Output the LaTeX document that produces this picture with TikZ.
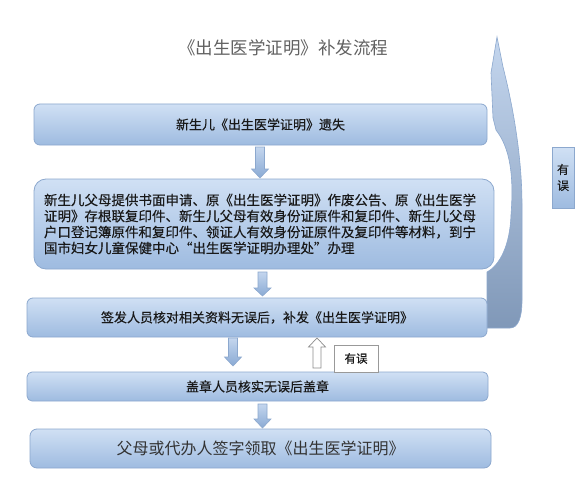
\documentclass[tikz,border=0pt]{standalone}
\usepackage{fontspec}
\setmainfont{Noto Sans CJK SC}
\newfontfamily\heifont{Noto Sans CJK SC}[FakeBold=0.35]
\definecolor{boxtop}{RGB}{208,224,244}
\definecolor{boxbot}{RGB}{158,187,224}
\definecolor{boxline}{RGB}{140,168,206}
\definecolor{arrtop}{RGB}{196,214,238}
\definecolor{arrbot}{RGB}{138,170,212}
\definecolor{curvtop}{RGB}{196,214,238}
\definecolor{curvbot}{RGB}{128,152,184}
\definecolor{txt}{RGB}{25,25,25}
\tikzset{
  flowbox/.style={draw=boxline, line width=0.8pt, top color=boxtop, bottom color=boxbot,
    rounded corners=6pt, inner sep=0pt, text=txt, font=\heifont\fontsize{13}{15.5}\selectfont},
  blockarr/.style={draw=boxline, line width=0.6pt, top color=arrtop, bottom color=arrbot},
  hollowarr/.style={draw=black!45, line width=0.7pt, fill=white},
  labelbox/.style={draw=black!40, line width=0.7pt, fill=white, inner sep=0pt,
    minimum width=44pt, minimum height=27pt, font=\heifont\fontsize{11.5}{13}\selectfont, text=txt},
  sidebox/.style={draw=boxline, line width=0.8pt, top color=boxtop, bottom color=boxbot,
    inner sep=0pt, minimum width=22pt, minimum height=61pt, align=center,
    font=\heifont\fontsize{12}{16}\selectfont, text=txt},
  curvarr/.style={draw=boxline, line width=0.6pt, top color=curvtop, bottom color=curvbot}
}
% down block arrow: center x, shaft top, head base, tip
\newcommand{\downblock}[4]{%
  \path[blockarr] (#1-4.5,#2) -- (#1+4.5,#2) -- (#1+4.5,#3) -- (#1+8.5,#3) --
    (#1,#4) -- (#1-8.5,#3) -- (#1-4.5,#3) -- cycle;}
\begin{document}
\begin{tikzpicture}[x=1pt,y=-1pt]
\useasboundingbox (0,0) rectangle (583,500);
\fill[white] (0,0) rectangle (583,500);

% title
\node (title) at (283,48) {\fontsize{17.5}{20}\selectfont\color{black!62}《出生医学证明》补发流程};

% curved return arrow
\path[curvarr] (487,328) -- (487,272)
  .. controls (500,265) and (510,245) .. (511,215)
  .. controls (514,175) and (510,148) .. (496,130)
  -- (493,118) -- (491,73) -- (497,37) -- (503,67)
  .. controls (514,110) and (522,160) .. (522,205)
  -- (522,300) .. controls (522,318) and (518,328) .. (510,328) -- cycle;

% boxes
\node[flowbox, minimum width=453pt, minimum height=41pt] (b1) at (260.5,124.5)
  {新生儿《出生医学证明》遗失};
\node[flowbox, rounded corners=12pt, minimum width=460pt, minimum height=90pt,
  text width=440pt, align=left, font=\heifont\fontsize{13.5}{16}\selectfont] (b2) at (264,224)
  {新生儿父母提供书面申请、原《出生医学证明》作废公告、原《出生医学\\
   证明》存根联复印件、新生儿父母有效身份证原件和复印件、新生儿父母\\
   户口登记簿原件和复印件、领证人有效身份证原件及复印件等材料，到宁\\
   国市妇女儿童保健中心“出生医学证明办理处”办理};
\node[flowbox, minimum width=460pt, minimum height=39pt] (b3) at (257,317.5)
  {签发人员核对相关资料无误后，补发《出生医学证明》};
\node[flowbox, rounded corners=5pt, minimum width=461pt, minimum height=29pt] (b4) at (257.5,386.5)
  {盖章人员核实无误后盖章};
\node[flowbox, rounded corners=7pt, minimum width=461pt, minimum height=39pt,
  font=\fontsize{16}{18}\selectfont, text=black!80] (b5) at (260.5,448.5)
  {父母或代办人签字领取《出生医学证明》};

% labels
\node[sidebox] (err1) at (563,177.5) {有\\误};
\node[labelbox] (err2) at (356,358.5) {有误};

% down arrows
\downblock{260}{147}{169}{178}
\downblock{262.5}{272}{288}{296}
\downblock{233}{338}{357}{366}
\downblock{262.5}{404}{419}{428}

% hollow up arrow
\path[hollowarr] (313,368) -- (321,368) -- (321,347) -- (325.5,347) -- (317,338)
  -- (308.5,347) -- (313,347) -- cycle;
\end{tikzpicture}
\end{document}
